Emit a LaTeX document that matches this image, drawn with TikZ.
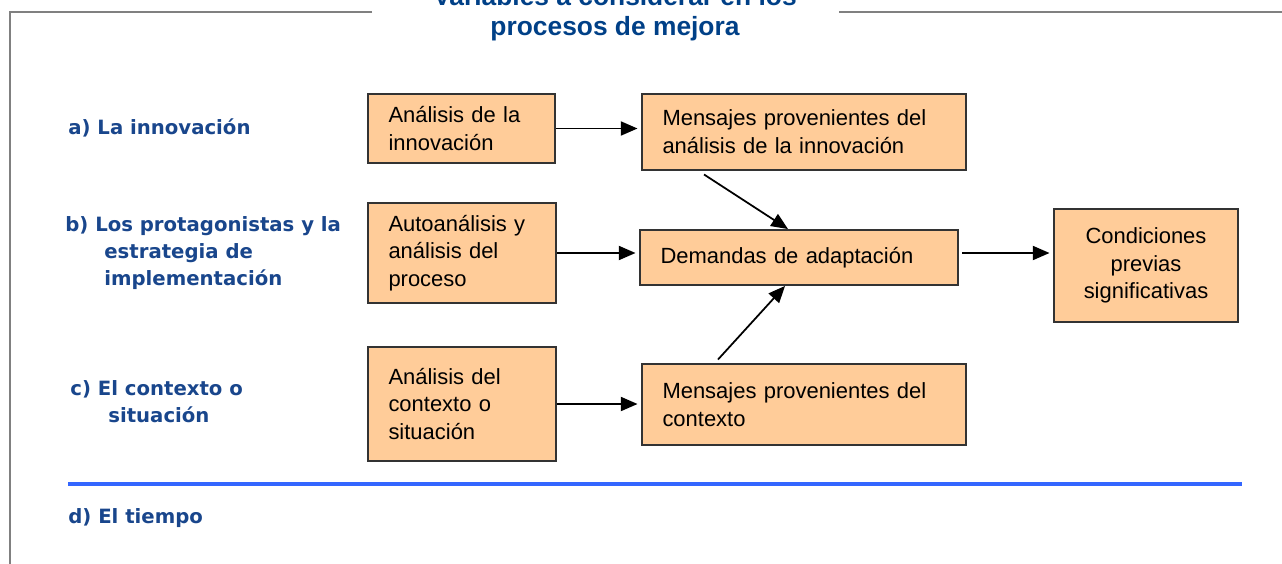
\documentclass[tikz,border=0pt]{standalone}
\usepackage{fontspec}
\setmainfont{Liberation Sans}
\newfontfamily\sidefont{DejaVu Sans}
\usetikzlibrary{arrows.meta,positioning}

\definecolor{boxfill}{RGB}{255,204,153}
\definecolor{boxline}{RGB}{51,51,51}
\definecolor{titleblue}{RGB}{0,64,135}
\definecolor{sideblue}{RGB}{25,70,140}
\definecolor{timeblue}{RGB}{51,102,255}
\definecolor{framegray}{RGB}{128,128,128}

\tikzset{
  box/.style={draw=boxline, fill=boxfill, line width=1.1pt, inner xsep=0.41cm, inner ysep=0pt,
    font=\fontsize{12.5}{15.8}\selectfont, align=left},
  side/.style={anchor=west, inner sep=0pt, text=sideblue,
    font=\sidefont\bfseries\fontsize{11.2}{15.6}\selectfont, align=left},
  flow/.style={-{Triangle[length=9.5pt,width=8pt]}, line width=1pt, shorten >=2pt},
  frame/.style={draw=framegray, line width=0.85pt},
}

\begin{document}
\begin{tikzpicture}
   \useasboundingbox (0,0) rectangle (25.64,-11.26);
   \clip (0,0) rectangle (25.64,-11.26);

   % frame and title
   \draw[frame] (7.44,-0.24) -- (0.2,-0.24) -- (0.2,-11.3);
   \draw[frame] (16.78,-0.24) -- (25.7,-0.24);
   \node[text=titleblue, align=center, inner sep=0pt,
         font=\bfseries\fontsize{15}{17}\selectfont] (title) at (12.3,-0.28)
         {Variables a considerar en los\\procesos de mejora};

   % variables
   \node[side] (va) at (1.36,-2.56) {a) La innovación};
   \node[side] (vb) at (1.30,-5.06) {b) Los protagonistas y la\\\hspace*{0.78cm}estrategia de\\\hspace*{0.78cm}implementación};
   \node[side] (vc) at (1.40,-8.03) {c) El contexto o\\\hspace*{0.76cm}situación};
   \node[side] (vd) at (1.36,-10.36) {d) El tiempo};

   % boxes
   \node[box, text width=2.92cm, minimum height=1.38cm] (a1) at (9.23,-2.57)
        {Análisis de la\\innovación};
   \node[box, text width=5.66cm, minimum height=1.52cm] (m1) at (16.08,-2.64)
        {Mensajes provenientes del\\análisis de la innovación};
   \node[box, text width=2.94cm, minimum height=2.0cm] (b1) at (9.24,-5.06)
        {Autoanálisis y\\análisis del\\proceso};
   \node[box, text width=5.54cm, minimum height=1.1cm] (d) at (15.98,-5.15)
        {Demandas de adaptación};
   \node[box, text width=2.86cm, minimum height=2.26cm, align=center] (c) at (22.92,-5.31)
        {Condiciones\\previas\\significativas};
   \node[box, text width=2.94cm, minimum height=2.28cm] (a3) at (9.24,-8.08)
        {Análisis del\\contexto o\\situación};
   \node[box, text width=5.66cm, minimum height=1.62cm] (m3) at (16.08,-8.09)
        {Mensajes provenientes del\\contexto};

   % arrows
   \draw[flow] (a1.east) -- (a1.east -| m1.west);
   \draw[flow] (b1.east) -- (b1.east -| d.west);
   \draw[flow] (a3.east) -- (a3.east -| m3.west);
   \draw[flow, shorten <=2pt] (d.east |- b1.east) -- (c.west |- b1.east);
   \draw[flow, shorten >=0pt] ([xshift=-2cm,yshift=-2pt]m1.south) -- ([xshift=-0.22cm]d.north);
   \draw[flow, shorten >=0pt] ([xshift=-1.72cm,yshift=2pt]m3.north) -- ([xshift=-0.28cm]d.south);

   % time line
   \draw[timeblue, line width=2.3pt] (1.36,-9.68) -- (24.84,-9.68);
\end{tikzpicture}
\end{document}
